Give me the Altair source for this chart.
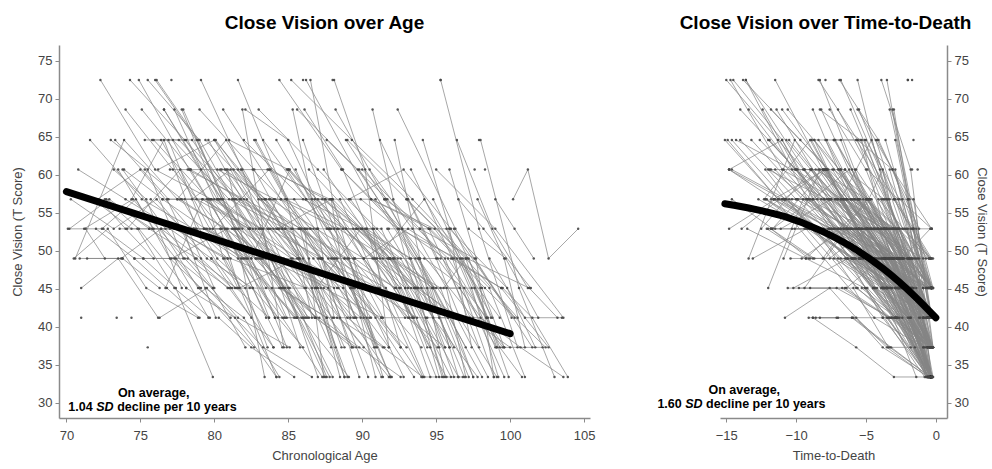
import altair as alt
import pandas as pd

# Discrete T-score levels of the close-vision measure
LEVELS = [33.4, 37.3, 41.2, 45.1, 49.0, 52.9, 56.8, 60.7, 64.6, 68.6, 72.5]

# Each participant: age at death, ages at observation, level index at each observation
DEATH_AGE = [
    84.9, 79.8, 85.6, 77.4, 86.0, 82.3, 80.1, 87.0, 83.5, 78.6,
    88.2, 81.9, 85.0, 89.3, 79.5, 86.4, 84.1, 76.9, 83.0, 80.8,
    88.5, 84.2, 90.0, 80.7, 87.8, 82.9, 91.0, 85.3, 89.0, 81.5,
    86.9, 92.3, 84.6, 90.8, 83.3, 88.0, 93.0, 86.2, 82.0, 91.5,
    89.6, 85.8, 94.0, 87.4, 83.9, 80.6, 87.1, 90.2, 84.8, 92.8,
    90.5, 94.8, 86.7, 92.0, 88.9, 95.3, 85.4, 93.6, 89.9, 87.5,
    96.0, 91.2, 88.3, 94.1, 90.7, 97.0, 86.4, 92.5, 95.6, 89.2,
    93.9, 91.4, 98.0, 88.6, 96.4, 86.0, 91.9, 89.4, 94.5, 87.9,
    95.0, 99.0, 91.8, 97.4, 93.2, 90.3, 99.8, 95.9, 92.6, 98.6,
    94.3, 91.0, 96.8, 100.2, 93.5, 97.9, 95.2, 92.1, 99.5, 96.1,
    101.0, 94.7, 98.3, 93.8, 97.2, 98.9, 96.6, 101.4, 95.8, 99.9,
    97.6, 102.1, 96.9, 100.6, 98.2, 103.5, 99.3, 97.8, 101.9, 100.0,
    102.8, 98.7, 104.0, 100.9, 99.6, 103.0, 101.5, 100.3, 102.3, 101.1,
    103.3, 105.0, 102.0, 103.8, 101.7, 99.4, 104.4, 78.0, 80.5, 83.0,
    97.0, 99.5, 98.9, 100.0, 77.0, 85.0, 88.0, 90.0, 84.0, 88.7,
    93.4, 96.3, 91.6, 99.1, 89.8, 95.4, 86.6, 100.7, 97.1, 93.0,
    100.4, 90.9, 98.5, 95.7, 88.4, 102.5, 86.8, 104.0, 92.4, 99.7,
    82.6, 84.5, 86.1, 83.7, 87.3, 85.9, 88.8, 84.0, 89.7, 90.4,
    87.2, 91.7, 92.9, 89.1, 93.7, 94.9, 91.3, 96.2, 95.5, 97.3,
    81.2, 80.3, 78.4, 83.1, 82.2, 85.1, 86.3, 88.1, 90.1, 92.2,
    94.4, 96.5, 98.8, 90.0, 88.4, 92.0, 86.9, 84.9, 94.0, 97.7,
    99.2, 95.1, 101.3, 83.8, 81.9, 87.7, 89.5, 91.1, 93.3, 95.8,
    79.3, 81.3, 82.8, 84.3, 85.7, 87.6, 89.9, 91.6, 93.8, 95.9,
    97.5, 99.4, 74.0, 76.3, 78.1, 80.0, 82.4, 84.7, 96.9, 99.8,
]

OBS_AGES = [
    [70.3, 73.2, 76.1, 79.5, 82.6, 84.6], [70.5, 72.8, 75.4, 78.9], [70.8, 74.0, 77.3, 80.9, 84.2],
    [71.0, 73.5, 76.2], [71.2, 74.5, 78.0, 81.6, 85.1], [71.6, 75.1, 78.6, 81.4],
    [72.0, 74.6, 77.3, 79.6], [72.3, 76.0, 79.8, 83.2, 86.4], [72.7, 75.8, 79.0, 82.7],
    [73.0, 75.5, 77.9], [73.3, 76.9, 80.2, 83.8, 87.5], [73.6, 76.4, 79.1, 81.2],
    [74.0, 77.2, 80.5, 84.3], [74.3, 78.0, 81.7, 85.2, 88.8], [74.6, 76.8, 79.0],
    [74.9, 78.3, 82.0, 85.6], [70.2, 72.9, 75.6, 78.8, 81.5, 83.7], [71.4, 73.8, 76.3],
    [72.1, 75.0, 78.4, 82.1], [73.8, 76.7, 79.9],
    [75.1, 78.4, 81.8, 85.0, 88.0], [75.3, 78.5, 81.3, 83.9], [75.5, 79.0, 82.4, 86.1, 89.4],
    [75.7, 77.9, 80.1], [75.9, 79.6, 83.0, 86.9], [76.0, 78.8, 81.7],
    [76.2, 80.0, 83.7, 87.3, 90.4], [76.4, 79.7, 82.5, 84.9], [76.6, 80.2, 84.0, 88.1],
    [76.8, 78.7, 80.9], [77.0, 80.4, 83.6, 86.3], [77.2, 81.0, 84.8, 88.5, 91.8],
    [77.4, 80.7, 84.0], [77.6, 81.5, 85.3, 89.9], [77.8, 80.3, 82.8],
    [78.0, 81.2, 84.5, 87.6], [78.2, 82.0, 85.9, 89.5, 92.6], [78.4, 81.9, 85.5],
    [78.6, 80.4, 81.7], [78.8, 82.4, 86.2, 90.6], [79.0, 82.7, 86.0, 89.0],
    [79.2, 82.3, 85.1], [79.4, 83.2, 87.0, 90.7, 93.5], [79.6, 83.0, 86.8],
    [79.8, 82.1, 83.6], [75.2, 77.4, 79.9], [76.3, 79.5, 83.3, 86.6],
    [77.1, 80.9, 84.6, 89.3], [78.1, 81.4, 84.2], [79.3, 83.5, 87.7, 92.0],
    [80.0, 83.4, 86.8, 90.1], [80.2, 84.1, 88.0, 91.6, 94.2], [80.4, 83.3, 86.1],
    [80.6, 84.5, 88.3, 91.4], [80.8, 84.0, 87.2, 88.6], [81.0, 85.0, 88.9, 92.6, 95.0],
    [81.2, 83.1, 84.9], [81.4, 85.3, 89.2, 93.0], [81.6, 84.9, 88.1, 89.5],
    [81.8, 84.6, 87.0], [82.0, 86.0, 90.0, 93.3, 95.6], [82.2, 85.8, 89.4, 90.9],
    [82.4, 85.2, 87.9], [82.6, 86.5, 90.4, 93.7], [82.8, 86.1, 89.6],
    [83.0, 87.0, 91.0, 94.7, 96.5], [83.2, 84.8, 86.2], [83.4, 87.3, 91.8],
    [83.6, 87.8, 91.9, 95.2], [83.8, 86.6, 88.8], [84.0, 87.5, 90.8, 93.4],
    [84.2, 87.7, 91.0], [84.4, 88.6, 92.7, 97.5], [84.6, 86.7, 88.3],
    [84.8, 88.9, 92.9, 96.0], [80.3, 82.5, 85.4], [81.7, 85.6, 89.0, 91.5],
    [82.9, 85.9, 89.1], [83.9, 87.4, 91.3, 94.0], [84.1, 86.0, 87.6],
    [85.0, 88.4, 91.7, 94.6], [85.2, 89.3, 93.4, 97.2, 98.7], [85.4, 88.2, 91.3],
    [85.6, 89.7, 93.8, 97.0], [85.8, 89.0, 92.8], [86.0, 88.1, 90.0],
    [86.2, 90.6, 94.9, 99.3], [86.4, 90.2, 93.6, 95.5], [86.6, 89.5, 92.2],
    [86.8, 90.9, 94.8, 98.1], [87.0, 90.5, 94.0], [87.2, 89.2, 90.8],
    [87.4, 91.4, 96.3], [87.6, 91.7, 95.8, 99.6], [87.8, 90.7, 93.2],
    [88.0, 91.9, 95.3, 97.5], [88.2, 91.6, 94.8], [88.4, 90.3, 91.9],
    [88.6, 92.5, 96.4, 99.0], [88.8, 92.3, 95.7], [89.0, 93.0, 97.0, 100.5],
    [89.2, 92.1, 94.4], [89.4, 93.3, 97.8], [89.6, 91.8, 93.5],
    [89.8, 93.6, 96.9], [90.0, 93.9, 98.4], [90.3, 93.2, 96.2],
    [90.6, 94.6, 98.6, 101.0], [90.9, 93.7, 95.4], [91.2, 95.1, 99.5],
    [91.5, 94.5, 97.3], [91.8, 95.9, 99.8, 101.7], [92.1, 94.3, 96.5],
    [92.4, 96.3, 100.1], [92.7, 95.6, 97.9], [93.0, 97.1, 101.3, 103.2],
    [93.3, 96.1, 98.9], [93.6, 95.8, 97.5], [93.9, 97.6, 101.5],
    [94.2, 96.9, 99.6], [94.5, 98.3, 102.4], [94.8, 96.7, 98.4],
    [95.0, 99.0, 103.6], [95.3, 97.9, 100.5], [95.7, 97.4, 99.2],
    [96.0, 99.4, 102.6], [96.4, 98.8, 101.2], [96.8, 98.5, 99.9],
    [97.2, 99.7, 101.9], [97.6, 99.3, 100.8], [98.0, 100.6, 103.0],
    [100.2, 101.2, 102.6, 104.6], [99.0, 100.3, 101.6], [98.6, 101.0, 103.5],
    [96.5, 98.2, 101.4], [95.5, 97.0, 99.1], [99.5, 101.5, 103.9],
    [71.0], [73.4], [74.4], [95.3], [97.9], [97.6], [98.3], [75.5], [77.1], [86.0], [88.0],
    [70.6, 73.9, 77.5, 80.8, 83.5], [76.7, 79.2, 82.6, 85.7, 88.2], [82.5, 85.1, 88.7, 92.9],
    [86.9, 89.9, 92.6, 95.9], [79.9, 83.7, 87.1, 91.1], [91.0, 94.2, 96.6, 98.8],
    [77.5, 80.8, 84.3, 89.4], [84.3, 87.9, 91.1, 95.1], [74.1, 77.7, 81.1, 86.2],
    [89.1, 92.8, 96.0, 100.3], [88.3, 91.4, 94.1, 96.8], [84.7, 87.1, 89.8, 92.6],
    [91.3, 94.4, 97.2, 100.0], [81.1, 84.4, 87.6, 90.5], [89.5, 92.2, 95.0, 98.0],
    [86.3, 89.6, 92.4, 95.3], [78.3, 81.6, 84.7, 88.0], [93.5, 96.6, 99.1, 102.2],
    [76.5, 79.8, 83.1, 86.5], [95.2, 98.0, 100.7, 103.6], [80.5, 83.8, 87.5, 91.9],
    [90.1, 93.1, 96.2, 99.4],
    [75.3, 77.8, 80.2, 82.4], [76.1, 78.9, 81.4, 84.1], [77.3, 80.0, 83.2, 85.8],
    [76.9, 79.3, 81.8, 83.4], [78.5, 81.1, 84.3, 87.0], [79.1, 81.9, 83.8, 85.6],
    [80.1, 83.0, 85.8, 88.5], [77.9, 80.6, 83.7], [81.3, 84.2, 87.0, 89.3],
    [82.1, 85.0, 87.8, 90.1], [80.7, 83.5, 86.9], [83.3, 86.2, 89.1, 91.4],
    [84.9, 87.6, 90.3, 92.6], [83.7, 86.4, 88.8], [86.1, 88.7, 91.2, 93.4],
    [87.3, 90.0, 92.5, 94.6], [85.5, 88.3, 91.0], [88.9, 91.5, 93.9, 95.9],
    [89.9, 92.4, 95.2], [90.5, 93.4, 95.7, 97.0],
    [74.4, 76.6, 78.8, 80.9], [73.5, 75.9, 78.2, 80.0], [72.6, 74.9, 78.1],
    [75.8, 78.1, 80.5, 82.8], [76.6, 79.1, 81.9], [78.7, 81.3, 84.8],
    [79.7, 82.6, 86.0], [81.5, 84.7, 87.8], [84.5, 87.2, 89.8],
    [86.7, 89.3, 91.9], [88.5, 91.2, 94.1], [91.7, 94.0, 96.2],
    [93.8, 96.4, 98.5], [86.5, 88.0, 89.7], [85.3, 87.0, 88.1],
    [88.1, 90.2, 91.8], [82.7, 84.9, 86.6], [81.9, 83.3, 84.7],
    [90.7, 92.1, 93.8], [94.1, 95.9, 97.4], [95.9, 97.7, 98.9],
    [92.2, 93.9, 94.8], [97.8, 99.6, 101.0], [80.9, 82.2, 83.5],
    [79.5, 80.6, 81.6], [84.4, 86.1, 87.4], [86.2, 87.9, 89.2],
    [87.7, 89.4, 90.9], [89.7, 91.3, 93.1], [92.9, 94.4, 95.6],
    [70.1, 72.4, 74.7, 77.0, 79.1], [70.9, 73.7, 76.4, 78.9, 81.1], [71.8, 74.4, 77.0, 79.8, 82.5],
    [72.5, 75.2, 78.2, 81.0, 84.0], [73.9, 76.5, 79.4, 82.3, 85.4], [75.6, 78.6, 81.6, 84.6, 87.3],
    [77.7, 80.7, 83.9, 86.8, 89.6], [79.5, 82.8, 85.7, 88.7, 91.3], [81.6, 84.8, 87.9, 90.9, 93.5],
    [83.8, 86.9, 90.1, 93.1, 95.6], [85.7, 88.8, 91.8, 94.8, 97.2], [87.9, 90.8, 93.7, 96.6, 99.1],
    [71.3, 72.6, 73.8], [72.2, 74.0, 75.9], [73.2, 75.4, 77.8],
    [74.8, 77.3, 79.7], [77.4, 79.9, 82.1], [79.4, 82.0, 84.4],
    [93.1, 95.0, 96.6], [96.2, 98.1, 99.6],
]

OBS_LEVELS = [
    [6, 5, 6, 4, 3, 1], [4, 5, 3, 2], [7, 6, 5, 4, 0],
    [3, 4, 2], [5, 6, 4, 2, 1], [8, 6, 5, 3],
    [5, 4, 4, 2], [10, 7, 6, 4, 2], [6, 5, 3, 1],
    [8, 7, 4], [8, 6, 6, 4, 0], [5, 5, 4, 3],
    [9, 7, 5, 2], [10, 8, 6, 5, 1], [4, 3, 2],
    [10, 7, 4, 2], [5, 6, 5, 4, 3, 2], [4, 4, 3],
    [6, 7, 5, 4], [7, 5, 3],
    [9, 7, 6, 3, 0], [8, 8, 6, 4], [10, 8, 5, 3, 1],
    [6, 5, 2], [8, 6, 4, 2], [10, 8, 5],
    [7, 8, 5, 4, 0], [8, 5, 4, 1], [9, 6, 4, 3],
    [6, 4, 3], [7, 7, 5, 2], [8, 6, 5, 2, 0],
    [5, 4, 1], [8, 6, 4, 2], [9, 6, 4],
    [6, 6, 3, 2], [7, 6, 5, 3, 1], [7, 4, 2],
    [5, 5, 3], [6, 5, 5, 2], [9, 7, 4, 0],
    [6, 5, 3], [8, 6, 6, 4, 2], [8, 5, 2],
    [4, 3, 1], [4, 3, 0], [2, 3, 1, 0],
    [4, 5, 3, 1], [3, 2, 0], [5, 4, 3, 0],
    [8, 6, 3, 1], [7, 6, 4, 3, 0], [6, 4, 2],
    [9, 6, 5, 2], [7, 5, 3, 1], [8, 7, 5, 3, 0],
    [5, 4, 2], [6, 5, 3, 1], [10, 6, 4, 2],
    [7, 5, 3], [8, 6, 5, 4, 1], [6, 4, 3, 0],
    [5, 4, 1], [7, 5, 3, 2], [8, 5, 2],
    [9, 7, 5, 3, 0], [4, 3, 2], [6, 4, 1],
    [7, 6, 4, 1], [5, 3, 0], [6, 6, 4, 2],
    [8, 5, 3], [10, 7, 5, 2], [5, 4, 3],
    [6, 5, 3, 0], [2, 1, 0], [3, 4, 2, 1],
    [4, 2, 0], [3, 3, 2, 0], [2, 2, 0],
    [7, 5, 4, 1], [10, 8, 6, 4, 2], [6, 4, 2],
    [9, 7, 4, 1], [5, 4, 0], [8, 5, 3],
    [10, 6, 5, 2], [7, 5, 3, 0], [6, 4, 3],
    [6, 6, 3, 0], [5, 3, 1], [4, 3, 1],
    [7, 4, 2], [8, 6, 4, 1], [5, 5, 2],
    [6, 4, 3, 0], [9, 6, 3], [3, 2, 0],
    [7, 5, 4, 1], [4, 3, 0], [8, 6, 4, 2],
    [6, 4, 1], [5, 3, 0], [5, 4, 3],
    [7, 4, 0], [7, 5, 2], [5, 4, 1],
    [6, 5, 3, 0], [4, 3, 0], [8, 4, 1],
    [6, 5, 2], [5, 5, 3, 1], [4, 2, 0],
    [9, 5, 2], [5, 4, 1], [6, 4, 3, 2],
    [7, 4, 0], [3, 2, 0], [5, 4, 1],
    [4, 3, 0], [5, 3, 1], [6, 4, 2],
    [7, 5, 2], [10, 5, 1], [5, 3, 0],
    [4, 3, 1], [8, 5, 3], [4, 2, 0],
    [5, 4, 2], [3, 1, 0], [8, 3, 0],
    [6, 7, 4, 5], [6, 5, 4], [4, 2, 2],
    [6, 5, 3], [3, 4, 1], [3, 2, 0],
    [2], [2], [2], [10], [8], [7], [7], [1], [10], [10], [10],
    [4, 8, 6, 5, 2], [3, 6, 5, 4, 1], [4, 7, 5, 2],
    [3, 5, 4, 1], [5, 7, 4, 3], [4, 6, 4, 2],
    [6, 8, 5, 2], [5, 6, 3, 1], [5, 7, 4, 3],
    [6, 7, 5, 2], [2, 1, 0, 0], [2, 2, 1, 0],
    [2, 2, 2, 1], [3, 3, 2, 2], [4, 4, 3, 3],
    [5, 5, 4, 4], [5, 5, 4, 2], [3, 3, 1, 1],
    [6, 6, 5, 5], [2, 2, 1, 0], [7, 7, 6, 4],
    [4, 5, 4, 3],
    [7, 6, 4, 3], [10, 8, 5, 2], [9, 6, 5, 1],
    [8, 5, 4, 0], [6, 7, 4, 0], [10, 7, 4, 2],
    [8, 6, 5, 0], [9, 6, 2], [7, 5, 4, 1],
    [9, 8, 5, 2], [7, 6, 3], [8, 6, 4, 0],
    [7, 5, 5, 1], [6, 4, 0], [9, 7, 4, 2],
    [6, 5, 3, 0], [7, 4, 1], [8, 6, 4, 1],
    [6, 5, 0], [7, 5, 3, 0],
    [6, 8, 5, 4], [7, 5, 5, 3], [6, 5, 3],
    [8, 8, 6, 5], [9, 7, 5], [5, 5, 2],
    [6, 3, 1], [5, 3, 0], [6, 4, 0],
    [5, 3, 0], [6, 3, 0], [5, 3, 0],
    [4, 2, 0], [10, 6, 3], [9, 5, 2],
    [10, 7, 1], [8, 6, 2], [9, 5, 1],
    [9, 6, 3], [8, 5, 1], [7, 4, 0],
    [8, 4, 2], [6, 4, 1], [7, 4, 3],
    [6, 4, 3], [5, 5, 0], [6, 6, 2],
    [4, 4, 1], [5, 5, 3], [3, 3, 0],
    [5, 5, 6, 4, 3], [4, 4, 5, 3, 2], [6, 5, 5, 4, 2],
    [5, 4, 4, 3, 1], [7, 6, 5, 4, 2], [5, 5, 4, 2, 0],
    [6, 5, 4, 2, 1], [5, 4, 4, 3, 0], [7, 5, 4, 2, 0],
    [6, 5, 4, 2, 1], [5, 4, 4, 3, 0], [5, 5, 3, 2, 0],
    [5, 4, 4], [6, 5, 4], [7, 6, 3],
    [5, 3, 2], [4, 3, 1], [3, 2, 0],
    [6, 4, 2], [5, 3, 1],
]

# Average trajectories
AGE_MEAN_X = [70.0, 100.0]
AGE_MEAN_Y = [57.8, 39.1]
TTD_MEAN_X = [-15.1, -13.0, -10.8, -8.4, -6.1, -3.8, -1.5, 0.0]
TTD_MEAN_Y = [56.2, 55.5, 54.5, 52.8, 50.6, 47.7, 44.0, 41.2]

# Annotation texts
NOTE_LINE1 = "On average,"
NOTE_AGE = ["1.04", "SD", "decline per 10 years"]
NOTE_TTD = ["1.60", "SD", "decline per 10 years"]

rows = []
for pid, (d, ages, lvls) in enumerate(zip(DEATH_AGE, OBS_AGES, OBS_LEVELS)):
    for a, l in zip(ages, lvls):
        rows.append({"pid": pid, "age": a, "ttd": round(a - d, 2), "t": LEVELS[l]})
df = pd.DataFrame(rows)

age_mean = pd.DataFrame({"x": AGE_MEAN_X, "y": AGE_MEAN_Y})
ttd_mean = pd.DataFrame({"x": TTD_MEAN_X, "y": TTD_MEAN_Y})

FONT = "Liberation Sans"
AX_COL = "#8a8a8a"
LAB_COL = "#444444"
Y_DOMAIN = [28.0, 77.1]
Y_TICKS = [30, 35, 40, 45, 50, 55, 60, 65, 70, 75]

common_axis = dict(
    grid=False, domainColor=AX_COL, domainWidth=1.5, tickColor=AX_COL, tickSize=4,
    labelColor=LAB_COL, titleColor=LAB_COL, labelFont=FONT, titleFont=FONT,
    labelFontSize=13, titleFontSize=13, titleFontWeight="normal",
)


def panel(xfield, xdomain, xticks, xtitle, yorient, title, title_dx, mean_df, note, note_pos, interp):
    xs = alt.Scale(domain=xdomain, nice=False, zero=False)
    ys = alt.Scale(domain=Y_DOMAIN, nice=False, zero=False)
    xaxis = alt.Axis(values=xticks, title=xtitle, labelPadding=7, titlePadding=7, **common_axis)
    if yorient == "left":
        yaxis = alt.Axis(values=Y_TICKS, title="Close Vision (T Score)", orient="left",
                         labelPadding=3, titlePadding=13, **common_axis)
    else:
        yaxis = alt.Axis(values=Y_TICKS, title="Close Vision (T Score)", orient="right",
                         labelPadding=3, titlePadding=6, **common_axis)
    base = alt.Chart(df)
    lines = base.mark_line(color="#858585", strokeWidth=0.9, opacity=0.8).encode(
        x=alt.X(f"{xfield}:Q", scale=xs, axis=xaxis),
        y=alt.Y("t:Q", scale=ys, axis=yaxis),
        detail="pid:N",
        order=alt.Order("age:Q"),
    )
    points = base.mark_circle(size=6, color="#454545", opacity=0.9).encode(
        x=alt.X(f"{xfield}:Q", scale=xs),
        y=alt.Y("t:Q", scale=ys),
    )
    mean = alt.Chart(mean_df).mark_line(
        color="black", strokeWidth=7, strokeCap="round", interpolate=interp
    ).encode(x=alt.X("x:Q", scale=xs), y=alt.Y("y:Q", scale=ys))

    (cx, y1), (x_num, x_sd, x_rest, y2) = note_pos
    tdf = pd.DataFrame({
        "x": [cx, x_num, x_sd, x_rest],
        "y": [y1, y2, y2, y2],
        "label": [NOTE_LINE1] + note,
    })
    tstyle = dict(font=FONT, fontSize=12.5, fontWeight="bold", color="black", baseline="alphabetic")
    t1 = alt.Chart(tdf.iloc[[0]]).mark_text(align="center", **tstyle).encode(
        x=alt.X("x:Q", scale=xs), y=alt.Y("y:Q", scale=ys), text="label:N")
    t2 = alt.Chart(tdf.iloc[[1, 3]]).mark_text(align="left", **tstyle).encode(
        x=alt.X("x:Q", scale=xs), y=alt.Y("y:Q", scale=ys), text="label:N")
    t3 = alt.Chart(tdf.iloc[[2]]).mark_text(align="left", fontStyle="italic", **tstyle).encode(
        x=alt.X("x:Q", scale=xs), y=alt.Y("y:Q", scale=ys), text="label:N")

    return alt.layer(lines, points, mean, t1, t2, t3).properties(
        title=alt.TitleParams(title, font=FONT, fontSize=19, fontWeight="bold", color="black",
                              anchor="middle", offset=12, dx=title_dx),
    )


left = panel(
    "age", [69.5, 105.4], [70, 75, 80, 85, 90, 95, 100, 105], "Chronological Age", "left",
    "Close Vision over Age", 0, age_mean, NOTE_AGE,
    ((75.9, 30.8), (70.13, 72.01, 73.43, 28.95)), "linear",
).properties(width=531, height=373)

right = panel(
    "ttd", [-15.45, 0.8], [-15, -10, -5, 0], "Time-to-Death", "right",
    "Close Vision over Time-to-Death", -8, ttd_mean, NOTE_TTD,
    ((-13.71, 31.2), (-19.93, -17.94, -16.45, 29.35)), "monotone",
).properties(width=227, height=373)

chart = alt.hconcat(left, right, spacing=130, bounds="flush").properties(
    padding={"left": 11, "top": 14, "right": 2, "bottom": 2}
).configure_view(stroke=None)

chart.save("out.html", embed_options={"renderer": "svg", "actions": False})
